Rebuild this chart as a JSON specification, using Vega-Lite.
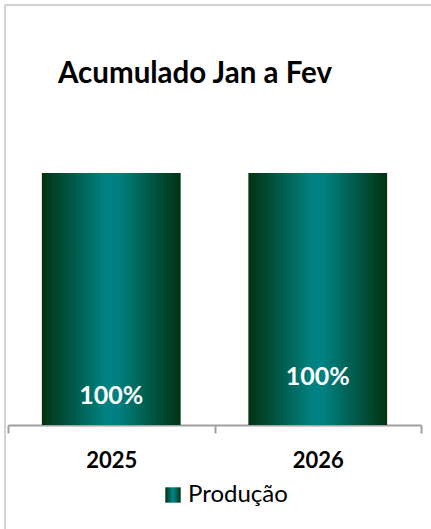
{
  "$schema": "https://vega.github.io/schema/vega-lite/v6.json",
  "autosize": "none",
  "padding": {"left": 5, "top": 5, "right": 0, "bottom": 0},
  "width": 426,
  "height": 524,
  "background": "white",
  "config": {
    "view": {"stroke": "#d3d3d3", "strokeWidth": 2, "strokeDash": [426, 950, 524, 0]},
    "font": "Lato"
  },
  "title": {
    "text": "Acumulado Jan a Fev",
    "anchor": "start",
    "frame": "group",
    "font": "Lato",
    "fontSize": 29.5,
    "fontWeight": "bold",
    "color": "#000000",
    "dx": 53,
    "offset": -107,
    "baseline": "alphabetic"
  },
  "data": {
    "values": [
      {"ano": "2025", "valor": 1, "serie": "Produção", "rotulo": "100%"},
      {"ano": "2026", "valor": 1, "serie": "Produção", "rotulo": "100%"}
    ]
  },
  "encoding": {
    "x": {
      "field": "ano",
      "type": "nominal",
      "scale": {"range": [3, 416], "paddingInner": 0, "paddingOuter": 0},
      "axis": {
        "title": null,
        "offset": -104,
        "tickBand": "extent",
        "domainColor": "#a0a0a0",
        "domainWidth": 2,
        "tickColor": "#a0a0a0",
        "tickWidth": 2,
        "tickSize": 8,
        "labelAngle": 0,
        "labelFont": "Lato",
        "labelFontSize": 22,
        "labelFontWeight": "bold",
        "labelColor": "#000000",
        "labelPadding": 17
      }
    },
    "y": {
      "field": "valor",
      "type": "quantitative",
      "scale": {"domain": [0, 1], "range": [420, 168], "nice": false, "zero": true},
      "axis": null
    }
  },
  "layer": [
    {
      "mark": {
        "type": "bar",
        "width": {"band": 0.672},
        "strokeWidth": 0,
        "color": {"gradient": "linear", "x1": 0, "y1": 0, "x2": 1, "y2": 0,
          "stops": [{"offset": 0, "color": "#003311"}, {"offset": 0.45, "color": "#008080"}, {"offset": 0.55, "color": "#008080"}, {"offset": 1, "color": "#003311"}]}
      },
      "encoding": {
        "stroke": {
          "field": "serie",
          "type": "nominal",
          "scale": {"range": ["transparent"]},
          "legend": {
            "title": null,
            "orient": "none",
            "legendX": 156,
            "legendY": 478,
            "symbolType": "square",
            "symbolSize": 237,
            "symbolStrokeWidth": 0,
            "symbolOpacity": 1,
            "labelFont": "Lato",
            "labelFontSize": 24,
            "labelColor": "#000000",
            "labelOffset": 3
          }
        }
      }
    },
    {
      "transform": [{"filter": "datum.ano == '2025'"}],
      "mark": {"type": "text", "color": "white", "font": "Lato", "fontSize": 25, "fontWeight": "bold", "baseline": "alphabetic", "dy": 231},
      "encoding": {"text": {"field": "rotulo"}}
    },
    {
      "transform": [{"filter": "datum.ano == '2026'"}],
      "mark": {"type": "text", "color": "white", "font": "Lato", "fontSize": 25, "fontWeight": "bold", "baseline": "alphabetic", "dy": 212},
      "encoding": {"text": {"field": "rotulo"}}
    }
  ]
}
